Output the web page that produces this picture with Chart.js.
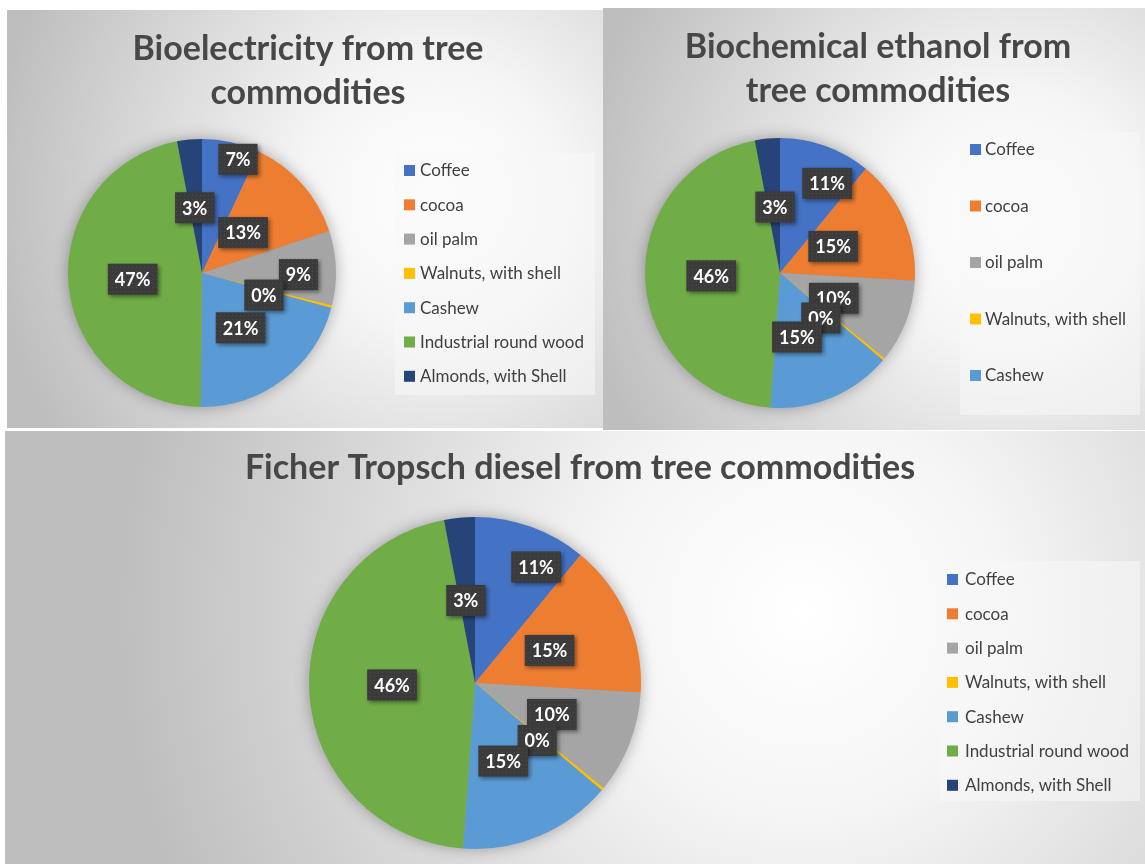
<!DOCTYPE html>
<html>
<head>
<meta charset="utf-8">
<script src="https://cdn.jsdelivr.net/npm/chart.js@4.4.0/dist/chart.umd.min.js"></script>
<style>
html, body { margin: 0; padding: 0; background: #fff; }
body { width: 1145px; height: 864px; position: relative; overflow: hidden; }
.panel { position: absolute; }
</style>
</head>
<body>
<div class="panel" style="left:7px;top:10px;width:596px;height:418px"><canvas id="bioelectricity"></canvas></div>
<div class="panel" style="left:603px;top:8px;width:542px;height:422px"><canvas id="ethanol"></canvas></div>
<div class="panel" style="left:5px;top:431px;width:1140px;height:433px"><canvas id="diesel"></canvas></div>
<script>
// categories and shares (%)
var categories = ['Coffee', 'cocoa', 'oil palm', 'Walnuts, with shell', 'Cashew', 'Industrial round wood', 'Almonds, with Shell'];
var bioelectricityShare = [7, 13, 9, 0.3, 21, 47, 3];
var ethanolShare = [11, 15, 10, 0.3, 15, 46, 3];
var dieselShare = [11, 15, 10, 0.3, 15, 46, 3];

var sliceColors = ['#4472C4', '#ED7D31', '#A5A5A5', '#FFC000', '#5B9BD5', '#70AD47', '#264478'];

var FONT = 'Lato, "Open Sans", sans-serif';

// dotted dark texture for the data label boxes
var dotCanvas = document.createElement('canvas');
dotCanvas.width = 4; dotCanvas.height = 4;
(function() {
    var d = dotCanvas.getContext('2d');
    d.fillStyle = '#3b3b3b';
    d.fillRect(0, 0, 4, 4);
    d.fillStyle = '#4c4c4c';
    d.fillRect(1, 1, 1, 1);
})();

var panelPlugin = {
    id: 'panel',
    beforeDraw: function(chart, args, opts) {
        var ctx = chart.ctx, w = chart.width, h = chart.height;
        var cx = opts.glow[0] * w, cy = opts.glow[1] * h;
        var g = ctx.createRadialGradient(cx, cy, 0, cx, cy, opts.glow[2] * w);
        g.addColorStop(0, '#ffffff');
        g.addColorStop(0.3, '#f5f5f5');
        g.addColorStop(1, '#bebebe');
        ctx.save();
        ctx.fillStyle = g;
        ctx.fillRect(0, 0, w, h);
        // title
        ctx.fillStyle = '#474747';
        ctx.font = 'bold ' + opts.titleSize + 'px ' + FONT;
        ctx.textAlign = 'center';
        ctx.textBaseline = 'alphabetic';
        opts.title.forEach(function(line, i) {
            ctx.fillText(line, opts.titleX, opts.titleY + i * opts.titleGap);
        });
        ctx.restore();
    },
    beforeDatasetsDraw: function(chart) {
        // soft shadow under the pie
        var arc = chart.getDatasetMeta(0).data[0];
        var ctx = chart.ctx;
        ctx.save();
        ctx.shadowColor = 'rgba(0,0,0,0.35)';
        ctx.shadowBlur = 16;
        ctx.fillStyle = '#9a9a9a';
        ctx.beginPath();
        ctx.arc(arc.x, arc.y, arc.outerRadius - 1, 0, Math.PI * 2);
        ctx.fill();
        ctx.restore();
    },
    afterDatasetsDraw: function(chart, args, opts) {
        var ctx = chart.ctx;
        var values = chart.data.datasets[0].data;
        var sum = values.reduce(function(a, b) { return a + b; }, 0);
        var pattern = ctx.createPattern(dotCanvas, 'repeat');
        ctx.save();
        ctx.font = 'bold 18px ' + FONT;
        ctx.textAlign = 'center';
        ctx.textBaseline = 'middle';
        chart.getDatasetMeta(0).data.forEach(function(arc, i) {
            var place = opts.labelPos[i];
            var a = (arc.startAngle + arc.endAngle) / 2 + place[1] * Math.PI / 180;
            var px = arc.x + Math.cos(a) * arc.outerRadius * place[0];
            var py = arc.y + Math.sin(a) * arc.outerRadius * place[0];
            var txt = Math.round(values[i] / sum * 100) + '%';
            var bw = ctx.measureText(txt).width + 14, bh = 31;
            ctx.save();
            ctx.shadowColor = 'rgba(0,0,0,0.45)';
            ctx.shadowBlur = 4;
            ctx.shadowOffsetX = 2;
            ctx.shadowOffsetY = 2;
            ctx.fillStyle = pattern;
            ctx.fillRect(px - bw / 2, py - bh / 2, bw, bh);
            ctx.restore();
            ctx.fillStyle = '#ffffff';
            ctx.fillText(txt, px, py + 1);
        });
        ctx.restore();
    },
    afterDraw: function(chart, args, opts) {
        var lg = opts.legend, ctx = chart.ctx;
        ctx.save();
        ctx.fillStyle = 'rgba(248,248,248,0.55)';
        ctx.fillRect(lg.x, lg.y, lg.w, lg.h);
        ctx.font = '17px ' + FONT;
        ctx.textBaseline = 'middle';
        ctx.textAlign = 'left';
        var colors = chart.data.datasets[0].backgroundColor;
        chart.data.labels.slice(0, lg.n).forEach(function(label, i) {
            var y = lg.first + i * lg.gap;
            ctx.fillStyle = colors[i];
            ctx.fillRect(lg.sx, y - 5, 11, 11);
            ctx.fillStyle = '#404040';
            ctx.fillText(label, lg.tx, y + 1);
        });
        ctx.restore();
    }
};

function makePie(id, values, padding, panel) {
    return new Chart(document.getElementById(id), {
        type: 'pie',
        data: {
            labels: categories,
            datasets: [{
                data: values,
                backgroundColor: sliceColors,
                borderWidth: 0
            }]
        },
        options: {
            responsive: true,
            maintainAspectRatio: false,
            animation: false,
            layout: { padding: padding },
            plugins: {
                legend: { display: false },
                title: { display: false },
                tooltip: { enabled: false },
                panel: panel
            }
        },
        plugins: [panelPlugin]
    });
}

makePie('bioelectricity', bioelectricityShare,
    { left: 20, right: 226, top: 129, bottom: 21 },
    {
        glow: [0.72, 0.45, 0.75],
        title: ['Bioelectricity from tree', 'commodities'],
        titleSize: 34, titleX: 301, titleY: 50, titleGap: 44,
        labelPos: [[0.89, 5], [0.43, -3], [0.72, 3], [0.49, 5], [0.5, 2], [0.52, 0], [0.49, -1]],
        legend: { x: 388, y: 143, w: 200, h: 242, first: 160, gap: 34.3, sx: 397, tx: 413, n: 7 }
    });

makePie('ethanol', ethanolShare,
    { left: 20, right: 208, top: 130, bottom: 22 },
    {
        glow: [0.75, 0.5, 0.8],
        title: ['Biochemical ethanol from', 'tree commodities'],
        titleSize: 34, titleX: 275, titleY: 50, titleGap: 44,
        labelPos: [[0.75, 8], [0.44, -3], [0.44, 4], [0.45, 8], [0.49, 8], [0.51, 1], [0.49, 1]],
        legend: { x: 357, y: 124, w: 180, h: 283, first: 141, gap: 56.5, sx: 367, tx: 382, n: 5 }
    });

makePie('diesel', dieselShare,
    { left: 100, right: 300, top: 86, bottom: 15 },
    {
        glow: [0.7, 0.42, 0.6],
        title: ['Ficher Tropsch diesel from tree commodities'],
        titleSize: 34, titleX: 575, titleY: 48, titleGap: 44,
        labelPos: [[0.79, 8], [0.49, 0], [0.5, 1], [0.51, 3], [0.5, 3], [0.5, 2], [0.5, -1]],
        legend: { x: 935, y: 130, w: 200, h: 240, first: 148, gap: 34.3, sx: 942, tx: 960, n: 7 }
    });
</script>
</body>
</html>
